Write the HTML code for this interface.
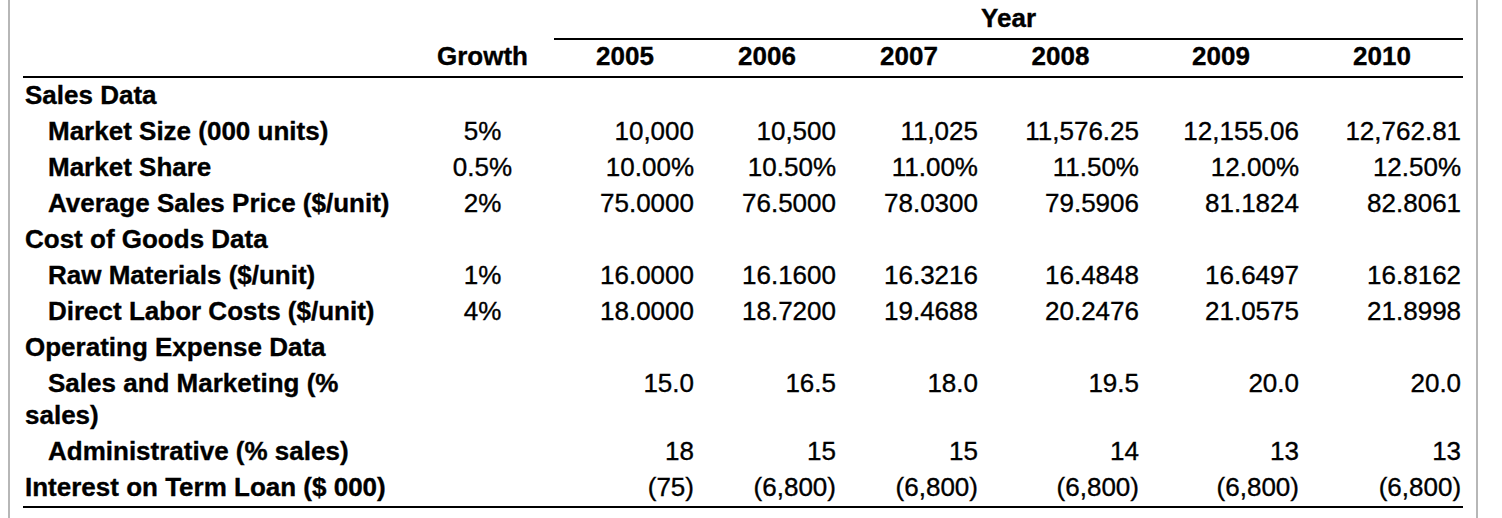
<!DOCTYPE html>
<html><head><meta charset="utf-8">
<style>
html,body{margin:0;padding:0;background:#fff;}
body{width:1502px;height:518px;overflow:hidden;position:relative;font-family:"Liberation Sans",Arial,Helvetica,sans-serif;color:#000;}
.frame{position:absolute;left:8px;top:-10px;width:1466px;height:540px;border-left:2px solid #b7b7b7;border-right:2px solid #b7b7b7;}
table{position:absolute;left:13px;top:12px;width:1440px;border-collapse:separate;border-spacing:0;table-layout:fixed;font-size:26px;-webkit-text-stroke:0.35px #000;}
td{padding:1px 2px 3px 2px;line-height:32px;height:32px;white-space:nowrap;vertical-align:top;}
td.l{font-weight:bold;text-align:left;white-space:normal;}
td.i{text-indent:23px;}
td.g{text-align:center;}
td.n{text-align:right;}
tr.h td{font-weight:bold;text-align:center;padding-top:0;padding-bottom:4px;}
.bb{border-bottom:2px solid #000;}
tr.hb td, tr.lb td{border-bottom:2px solid #000;}
</style></head><body>
<div class="frame">
<table>
<colgroup><col style="width:388px"><col style="width:143px"><col style="width:142px"><col style="width:142px"><col style="width:142px"><col style="width:161px"><col style="width:160px"><col style="width:162px"></colgroup>
<tr class="h"><td colspan="2"></td><td colspan="6" class="bb">Year</td></tr>
<tr class="h hb"><td></td><td>Growth</td><td>2005</td><td>2006</td><td>2007</td><td>2008</td><td>2009</td><td>2010</td></tr>
<tr><td class="l">Sales Data</td><td></td><td></td><td></td><td></td><td></td><td></td><td></td></tr>
<tr><td class="l i">Market Size (000 units)</td><td class="g">5%</td><td class="n">10,000</td><td class="n">10,500</td><td class="n">11,025</td><td class="n">11,576.25</td><td class="n">12,155.06</td><td class="n">12,762.81</td></tr>
<tr><td class="l i">Market Share</td><td class="g">0.5%</td><td class="n">10.00%</td><td class="n">10.50%</td><td class="n">11.00%</td><td class="n">11.50%</td><td class="n">12.00%</td><td class="n">12.50%</td></tr>
<tr><td class="l i">Average Sales Price ($/unit)</td><td class="g">2%</td><td class="n">75.0000</td><td class="n">76.5000</td><td class="n">78.0300</td><td class="n">79.5906</td><td class="n">81.1824</td><td class="n">82.8061</td></tr>
<tr><td class="l">Cost of Goods Data</td><td></td><td></td><td></td><td></td><td></td><td></td><td></td></tr>
<tr><td class="l i">Raw Materials ($/unit)</td><td class="g">1%</td><td class="n">16.0000</td><td class="n">16.1600</td><td class="n">16.3216</td><td class="n">16.4848</td><td class="n">16.6497</td><td class="n">16.8162</td></tr>
<tr><td class="l i">Direct Labor Costs ($/unit)</td><td class="g">4%</td><td class="n">18.0000</td><td class="n">18.7200</td><td class="n">19.4688</td><td class="n">20.2476</td><td class="n">21.0575</td><td class="n">21.8998</td></tr>
<tr><td class="l">Operating Expense Data</td><td></td><td></td><td></td><td></td><td></td><td></td><td></td></tr>
<tr><td class="l i">Sales and Marketing (% sales)</td><td class="g"></td><td class="n">15.0</td><td class="n">16.5</td><td class="n">18.0</td><td class="n">19.5</td><td class="n">20.0</td><td class="n">20.0</td></tr>
<tr><td class="l i">Administrative (% sales)</td><td class="g"></td><td class="n">18</td><td class="n">15</td><td class="n">15</td><td class="n">14</td><td class="n">13</td><td class="n">13</td></tr>
<tr class="lb"><td class="l">Interest on Term Loan ($ 000)</td><td class="g"></td><td class="n">(75)</td><td class="n">(6,800)</td><td class="n">(6,800)</td><td class="n">(6,800)</td><td class="n">(6,800)</td><td class="n">(6,800)</td></tr>
</table>
</div>
</body></html>
